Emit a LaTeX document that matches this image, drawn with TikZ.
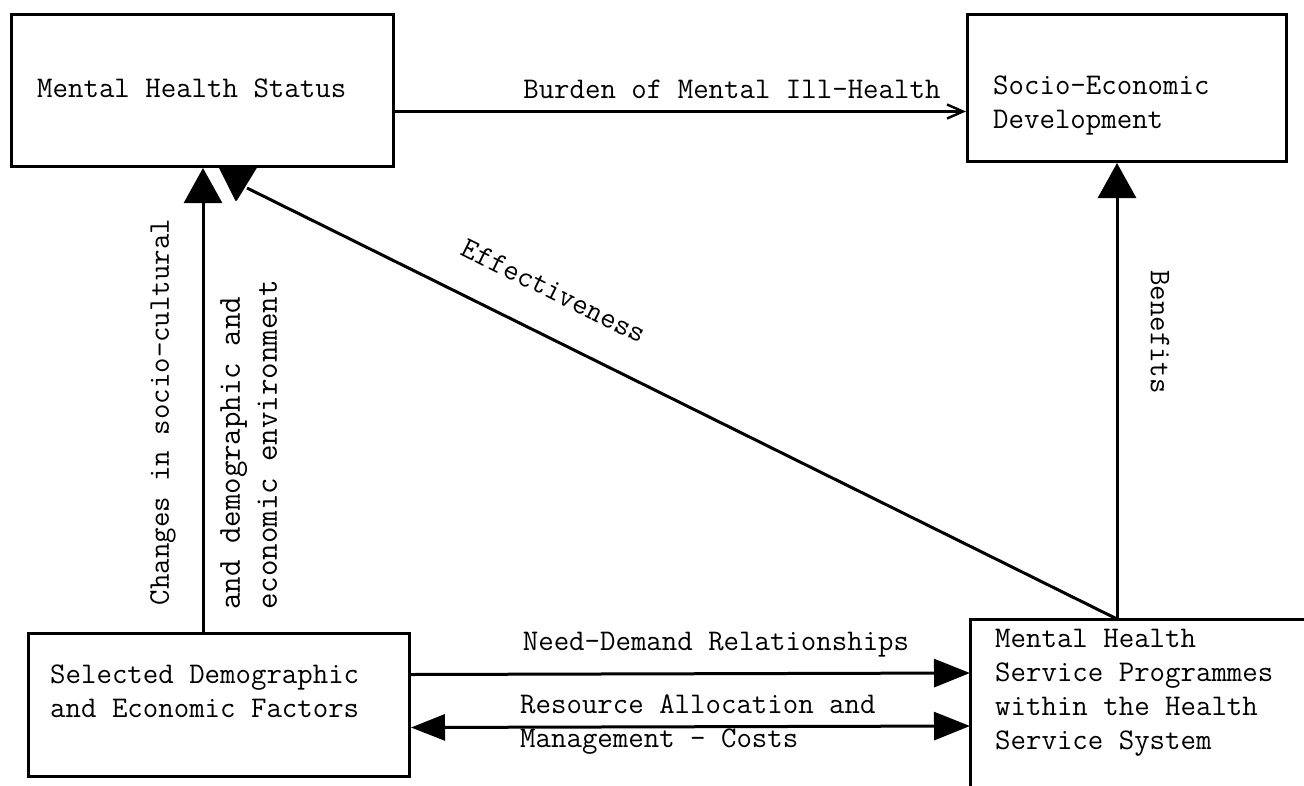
\documentclass[tikz,border=0pt]{standalone}
\usetikzlibrary{arrows.meta,calc}

\begin{document}
\begin{tikzpicture}[
  x=1pt, y=-1pt,
  font=\ttfamily\fontsize{30}{34}\selectfont,
  box/.style={draw, line width=3pt, inner sep=0pt, anchor=north west},
  txt/.style={align=left, inner sep=0pt, anchor=west},
  lbl/.style={inner sep=0pt},
  line/.style={line width=3pt},
  uparr/.style={line width=3pt, -{Triangle[length=35pt,width=38pt]}},
  hdarr/.style={line width=3pt, -{Triangle[length=36pt,width=28pt]}},
  both++/.style={line width=3pt, {Triangle[length=34pt,width=26pt]}-{Triangle[length=36pt,width=28pt]}},
  openarr/.style={line width=2.4pt, -{Straight Barb[length=16pt,width=14pt]}}
]
\useasboundingbox (0,0) rectangle (1304,785);
% boxes
\node[box, minimum width=382pt, minimum height=152pt] (status) at (10,13) {};
\node[box, minimum width=319pt, minimum height=147pt] (socio) at (966,13) {};
\node[box, minimum width=381pt, minimum height=143pt] (factors) at (27,632) {};
\draw[line] (1320,619) -| (970,800); % programmes box, cut by the page
% box texts
\node[txt] (statustxt) at (37,88) {Mental Health Status};
\node[txt] (sociotxt) at (993,105) {Socio-Economic\\Development};
\node[txt] (factorstxt) at (50,691) {Selected Demographic\\and Economic Factors};
\node[txt] (progtxt) at (995,693) {Mental Health\\Service Programmes\\within the Health\\Service System};
% anchor points
\coordinate (progtop) at (1117,619);
\coordinate (chg) at (203,632);
\coordinate (efftip) at (247,188);
\coordinate (nd) at (970,673);
\coordinate (ra) at (970,726);
% arrows
\draw[openarr] ([yshift=-21pt]status.east) -- ([yshift=-23.5pt]socio.west)
  node[lbl, pos=0.59, above=12pt] {Burden of Mental Ill-Health};
\draw[uparr] (progtop) -- (progtop |- socio.south);
\draw[uparr] (chg) -- (chg |- status.south);
\draw[line] (progtop) -- (efftip);
\fill[rounded corners=2pt] (218,166) -- (258,166) -- (236,202) -- cycle;
\draw[hdarr] ([yshift=30.5pt]factors.east) -- (nd);
\draw[both++] ([yshift=-22.5pt]factors.east) -- (ra);
% labels
\node[lbl] (ndlbl) at (716,645) {Need-Demand Relationships};
\node[txt] (ralbl) at (520,725) {Resource Allocation and\\Management - Costs};
\node[lbl, rotate=-90] (benlbl) at (1160,332) {Benefits};
\node[lbl, rotate=90] (chglbl) at (163,412) {Changes in socio-cultural};
\node[lbl, rotate=90, align=left, anchor=north west, font=\ttfamily\fontsize{32}{37}\selectfont] (envlbl) at (220,610) {and demographic and\\economic environment};
\node[lbl, rotate=-26.4] (efflbl) at (554,291) {Effectiveness};
\end{tikzpicture}
\end{document}
